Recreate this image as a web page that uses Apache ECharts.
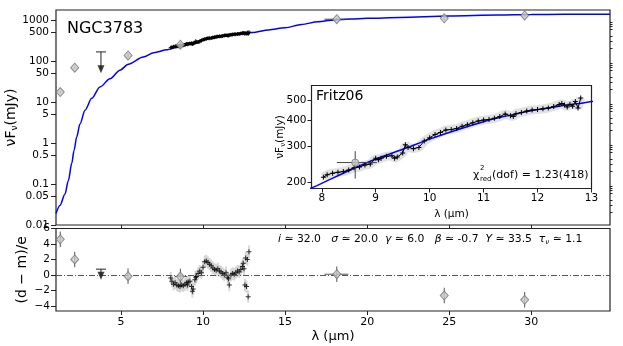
<!DOCTYPE html>
<html>
<head>
<meta charset="utf-8">
<script src="https://cdn.jsdelivr.net/npm/echarts@6/dist/echarts.min.js"></script>
<style>
html, body { margin: 0; padding: 0; background: #fff; }
#chart { width: 623px; height: 346px; }
</style>
</head>
<body>
<div id="chart"></div>
<script>
// 模型曲线
const modelLam = [1.04, 1.28, 1.59, 1.79, 2.0, 2.14, 2.30, 2.50, 2.81, 3.22, 3.72, 4.33, 4.94, 5.45, 6.36, 7.0, 7.81, 8.0, 8.5, 9.0, 9.5, 10.0, 10.5, 11.0, 11.5, 12.0, 12.5, 13.0, 14.0, 15.0, 16.0, 17.0, 18.0, 19.0, 20.0, 22.0, 25.0, 28.0, 30.0, 32.0, 34.8];
const modelFlux = [0.019, 0.030, 0.057, 0.12, 0.32, 0.66, 1.4, 2.9, 6.3, 12.3, 23.3, 37, 60, 84, 125, 160, 188, 198, 228, 260, 290, 325, 360, 395, 425, 452, 474, 495, 575, 650, 780, 910, 1010, 1060, 1100, 1160, 1250, 1320, 1360, 1380, 1390];

// 光谱 (Spitzer)
const specLam = [8.03, 8.1, 8.2, 8.3, 8.4, 8.5, 8.6, 8.7, 8.8, 8.9, 9.0, 9.05, 9.1, 9.2, 9.3, 9.35, 9.4, 9.5, 9.55, 9.6, 9.7, 9.8, 9.9, 10.0, 10.1, 10.2, 10.3, 10.4, 10.5, 10.6, 10.7, 10.8, 10.9, 11.0, 11.1, 11.2, 11.3, 11.4, 11.5, 11.55, 11.6, 11.7, 11.8, 11.9, 12.0, 12.1, 12.2, 12.3, 12.4, 12.45, 12.5, 12.55, 12.6, 12.65, 12.7, 12.75, 12.8];
const specFlux = [212, 218, 222, 224, 226, 230, 236, 238, 243, 246, 262, 258, 262, 268, 270, 262, 266, 278, 305, 296, 292, 296, 318, 330, 342, 350, 360, 362, 366, 375, 382, 390, 398, 402, 405, 410, 418, 430, 422, 418, 432, 438, 445, 450, 452, 456, 460, 468, 478, 484, 476, 465, 480, 470, 495, 460, 515];
const specResid = [-0.4, -0.8, -1.2, -1.0, -1.3, -1.4, -1.5, -1.3, -1.4, -1.2, -1.0, -1.3, -0.9, -0.8, -1.5, -2.1, -1.8, -0.6, -0.3, -0.2, 0.2, 0.5, 0.3, 1.0, 1.7, 1.8, 1.6, 1.4, 1.2, 0.9, 0.7, 0.6, 0.8, 0.5, 0.4, 0.2, 0.0, 0.3, -0.3, -0.5, -1.3, 0.0, 0.2, 0.1, 0.3, 0.5, 0.4, 0.7, 1.1, 1.5, 0.8, -1.3, 2.2, -1.5, 2.0, -2.8, 3.0];

// 测光点
const photLam = [1.30, 2.18, 5.43, 8.62, 18.15, 24.7, 29.6];
const photFlux = [17.5, 69, 137, 250, 1050, 1100, 1300];
const photLamLo = [1.30, 2.18, 5.43, 8.28, 17.4, 24.7, 29.6];
const photLamHi = [1.30, 2.18, 5.43, 9.02, 18.86, 24.7, 29.6];
const photFluxLo = [16.5, 65, 125, 209, 1000, 1010, 1200];
const photFluxHi = [18.5, 73, 150, 284, 1100, 1190, 1400];
const photResid = [4.6, 2.0, -0.15, -0.2, 0.1, -2.65, -3.2];
const photResidErr = [1, 1, 1, 1, 1, 1, 1];

// 上限
const limLam = [3.78];
const limFlux = [167];
const limArrow = [63];
const limResid = [0.75];
const limResidArrow = [-0.1];

// 刻度
const mainYTicks = [0.01, 0.05, 0.1, 0.5, 1, 5, 10, 50, 100, 500, 1000];
const mainYMinor = [0.02, 0.03, 0.04, 0.06, 0.07, 0.08, 0.09, 0.2, 0.3, 0.4, 0.6, 0.7, 0.8, 0.9, 2, 3, 4, 6, 7, 8, 9, 20, 30, 40, 60, 70, 80, 90, 200, 300, 400, 600, 700, 800, 900];
const insetYTicks = [200, 300, 400, 500];
const xTicks = [5, 10, 15, 20, 25, 30];
const insetXTicks = [8, 9, 10, 11, 12, 13];
const residTicks = [-4, -2, 0, 2, 4, 6];

const lg = v => Math.log10(v);
const FONT = 'DejaVu Sans';
const plusPath = 'path://M4,0 L6,0 L6,4 L10,4 L10,6 L6,6 L6,10 L4,10 L4,6 L0,6 L0,4 L4,4 Z';

function fmtLog(v) {
  return String(Number(Math.pow(10, v).toPrecision(3)));
}
function fmtMinus(v) {
  return v < 0 ? '\u2212' + (-v) : String(v);
}

// 误差棒
function errBars(xi, yi, data, color, width) {
  return {
    type: 'custom', xAxisIndex: xi, yAxisIndex: yi, silent: true, clip: true, z: 3,
    renderItem: function(params, api) {
      const y = api.value(1), x = api.value(0);
      const a = api.coord([api.value(2), y]), b = api.coord([api.value(3), y]);
      const c = api.coord([x, api.value(4)]), d = api.coord([x, api.value(5)]);
      return {
        type: 'group',
        children: [
          { type: 'line', shape: { x1: a[0], y1: a[1], x2: b[0], y2: b[1] }, style: { stroke: color, lineWidth: width } },
          { type: 'line', shape: { x1: c[0], y1: c[1], x2: d[0], y2: d[1] }, style: { stroke: color, lineWidth: width } }
        ]
      };
    },
    data: data
  };
}

// 上限标记
function limBars(xi, yi, data) {
  return {
    type: 'custom', xAxisIndex: xi, yAxisIndex: yi, silent: true, z: 3,
    renderItem: function(params, api) {
      const top = api.coord([api.value(0), api.value(1)]);
      const bot = api.coord([api.value(0), api.value(2)]);
      return {
        type: 'group',
        children: [
          { type: 'line', shape: { x1: top[0] - 5, y1: top[1], x2: top[0] + 5, y2: top[1] }, style: { stroke: '#222', lineWidth: 1 } },
          { type: 'line', shape: { x1: top[0], y1: top[1], x2: bot[0], y2: bot[1] }, style: { stroke: '#222', lineWidth: 1 } }
        ]
      };
    },
    data: data
  };
}

const diamondStyle = { color: '#c8c8c8', borderColor: '#777', borderWidth: 1 };
const tickLabel = { fontFamily: FONT, fontSize: 10.5, color: '#000' };
const tickLine = { color: '#222', width: 1 };

function gridBox(extra) {
  return Object.assign({ show: true, borderColor: '#222', borderWidth: 1.2, backgroundColor: 'transparent', outerBoundsMode: 'none', containLabel: false }, extra);
}

const option = {
  animation: false,
  backgroundColor: '#fff',
  grid: [
    gridBox({ left: 56, top: 10, right: 13, height: 215 }),
    gridBox({ left: 56, top: 228.5, right: 13, bottom: 35 }),
    gridBox({ left: 311.5, top: 85.5, width: 280, height: 103, backgroundColor: '#fff', z: 5 })
  ],
  xAxis: [
    {
      type: 'value', gridIndex: 0, min: 1.04, max: 34.8,
      axisLine: { show: false, onZero: false }, splitLine: { show: false },
      axisTick: { show: true, length: 4, customValues: xTicks, lineStyle: tickLine },
      axisLabel: { show: false }
    },
    {
      type: 'value', gridIndex: 1, min: 1.04, max: 34.8,
      axisLine: { show: false, onZero: false }, splitLine: { show: false },
      axisTick: { show: true, length: 4, customValues: xTicks, lineStyle: tickLine },
      axisLabel: { customValues: xTicks, margin: 6, fontSize: 11, fontFamily: FONT, color: '#000' },
      name: 'λ (µm)', nameLocation: 'middle', nameGap: 19, nameMoveOverlap: false,
      nameTextStyle: { fontFamily: FONT, fontSize: 13, color: '#000' }
    },
    {
      type: 'value', gridIndex: 2, min: 7.81, max: 13,
      axisLine: { show: false, onZero: false }, splitLine: { show: false },
      axisTick: { show: true, length: 4, customValues: insetXTicks, lineStyle: tickLine },
      axisLabel: Object.assign({ customValues: insetXTicks, margin: 4 }, tickLabel),
      name: 'λ (µm)', nameLocation: 'middle', nameGap: 20, nameMoveOverlap: false,
      nameTextStyle: { fontFamily: FONT, fontSize: 10.5, color: '#000' }
    }
  ],
  yAxis: [
    {
      type: 'value', gridIndex: 0, min: lg(0.01), max: lg(1760),
      axisLine: { show: false, onZero: false }, splitLine: { show: false },
      axisTick: { show: true, length: 5, customValues: mainYTicks.map(lg), lineStyle: tickLine },
      axisLabel: Object.assign({ customValues: mainYTicks.map(lg), margin: 7, formatter: fmtLog }, tickLabel),
      name: '{a|νF}{s|ν}{a|(mJy)}', nameLocation: 'middle', nameGap: 37, nameRotate: 90, nameMoveOverlap: false,
      nameTextStyle: {
        fontFamily: FONT, color: '#000',
        rich: {
          a: { fontFamily: FONT, fontSize: 14, color: '#000' },
          s: { fontFamily: FONT, fontSize: 9, color: '#000', padding: [7, 0, 0, 0] }
        }
      }
    },
    {
      type: 'value', gridIndex: 1, min: -4.65, max: 6,
      axisLine: { show: false, onZero: false }, splitLine: { show: false },
      axisTick: { show: true, length: 5, customValues: residTicks, lineStyle: tickLine },
      axisLabel: Object.assign({ customValues: residTicks, margin: 6, formatter: fmtMinus }, tickLabel),
      name: '(d \u2212 m)/e', nameLocation: 'middle', nameGap: 27, nameRotate: 90, nameMoveOverlap: false,
      nameTextStyle: { fontFamily: FONT, fontSize: 14, color: '#000' }
    },
    {
      type: 'value', gridIndex: 2, min: lg(187), max: lg(592),
      axisLine: { show: false, onZero: false }, splitLine: { show: false },
      axisTick: { show: true, length: 4, customValues: insetYTicks.map(lg), lineStyle: tickLine },
      axisLabel: Object.assign({ customValues: insetYTicks.map(lg), margin: 5, formatter: fmtLog }, tickLabel),
      name: '{a|νF}{s|ν}{a|(mJy)}', nameLocation: 'middle', nameGap: 25, nameRotate: 90, nameMoveOverlap: false,
      nameTextStyle: {
        fontFamily: FONT, color: '#000',
        rich: {
          a: { fontFamily: FONT, fontSize: 10.5, color: '#000' },
          s: { fontFamily: FONT, fontSize: 7, color: '#000', padding: [5, 0, 0, 0] }
        }
      }
    },
    {
      // 次刻度
      type: 'value', gridIndex: 0, min: lg(0.01), max: lg(1760),
      axisLine: { show: false, onZero: false }, splitLine: { show: false },
      axisTick: { show: true, length: 2.5, customValues: mainYMinor.map(lg), lineStyle: tickLine },
      axisLabel: { show: false }
    }
  ],
  graphic: [
    { type: 'text', left: 67, top: 21, z: 100, style: { text: 'NGC3783', font: '16px "DejaVu Sans"', fill: '#000' } },
    { type: 'text', left: 316, top: 89, z: 100, style: { text: 'Fritz06', font: '14px "DejaVu Sans"', fill: '#000' } },
    { type: 'text', left: 473, top: 170, z: 100, style: { text: 'χ', font: '11px "DejaVu Sans"', fill: '#000' } },
    { type: 'text', left: 480, top: 165, z: 100, style: { text: '2', font: '7px "DejaVu Sans"', fill: '#000' } },
    { type: 'text', left: 480, top: 176, z: 100, style: { text: 'red', font: '7px "DejaVu Sans"', fill: '#000' } },
    { type: 'text', left: 492, top: 170, z: 100, style: { text: '(dof) = 1.23(418)', font: '11px "DejaVu Sans"', fill: '#000' } },
    {
      type: 'text', left: 278, top: 234, z: 100,
      style: {
        text: '{it|i}{n| \u2243 32.0   }{it|σ}{n| \u2243 20.0  }{it|γ}{n| \u2243 6.0   }{it|β}{n| \u2243 -0.7  }{it|Y}{n| \u2243 33.5  }{it|τ}{s|ν}{n| \u2243 1.1}',
        rich: {
          it: { fontFamily: FONT, fontSize: 10.8, fontStyle: 'italic', fill: '#000' },
          n: { fontFamily: FONT, fontSize: 10.8, fill: '#000' },
          s: { fontFamily: FONT, fontSize: 7, fontStyle: 'italic', fill: '#000', padding: [5, 0, 0, 0] }
        }
      }
    }
  ],
  series: [
    // 主图
    {
      type: 'line', xAxisIndex: 0, yAxisIndex: 0, symbol: 'none', smooth: 0.3, smoothMonotone: 'x', z: 2,
      lineStyle: { color: '#0000ff', width: 1.5 },
      data: modelLam.map((l, i) => [l, lg(modelFlux[i])])
    },
    {
      type: 'line', xAxisIndex: 0, yAxisIndex: 0, symbol: plusPath, symbolSize: 4, z: 4,
      lineStyle: { color: '#000', width: 3 }, itemStyle: { color: '#000' },
      data: specLam.map((l, i) => [l, lg(specFlux[i])])
    },
    errBars(0, 0, photLam.map((l, i) => [l, lg(photFlux[i]), photLamLo[i], photLamHi[i], lg(photFluxLo[i]), lg(photFluxHi[i])]), '#444', 1),
    {
      type: 'scatter', xAxisIndex: 0, yAxisIndex: 0, symbol: 'diamond', symbolSize: [8, 9], z: 5,
      itemStyle: diamondStyle,
      data: photLam.map((l, i) => [l, lg(photFlux[i])])
    },
    limBars(0, 0, limLam.map((l, i) => [l, lg(limFlux[i]), lg(limArrow[i])])),
    {
      type: 'scatter', xAxisIndex: 0, yAxisIndex: 0, symbol: 'triangle', symbolRotate: 180, symbolSize: [7, 8], z: 5,
      itemStyle: { color: '#111' },
      data: limLam.map((l, i) => [l, lg(limArrow[i])])
    },
    // 残差
    errBars(1, 1, specLam.map((l, i) => [l, specResid[i], l, l, specResid[i] - 0.8, specResid[i] + 0.8]), 'rgba(170,170,170,0.45)', 2),
    {
      type: 'scatter', xAxisIndex: 1, yAxisIndex: 1, symbol: plusPath, symbolSize: 5, z: 4,
      itemStyle: { color: '#000' },
      data: specLam.map((l, i) => [l, specResid[i]]),
      markLine: {
        silent: true, symbol: 'none', label: { show: false },
        lineStyle: { color: '#555', width: 1, type: [6, 2, 1, 2] },
        data: [{ yAxis: 0 }]
      }
    },
    errBars(1, 1, photLam.map((l, i) => [l, photResid[i], photLamLo[i], photLamHi[i], photResid[i] - photResidErr[i], photResid[i] + photResidErr[i]]), '#555', 1),
    {
      type: 'scatter', xAxisIndex: 1, yAxisIndex: 1, symbol: 'diamond', symbolSize: [8, 9], z: 5,
      itemStyle: diamondStyle,
      data: photLam.map((l, i) => [l, photResid[i]])
    },
    limBars(1, 1, limLam.map((l, i) => [l, limResid[i], limResidArrow[i]])),
    {
      type: 'scatter', xAxisIndex: 1, yAxisIndex: 1, symbol: 'triangle', symbolRotate: 180, symbolSize: [7, 8], z: 5,
      itemStyle: { color: '#111' },
      data: limLam.map((l, i) => [l, limResidArrow[i]])
    },
    // 小图
    {
      type: 'line', xAxisIndex: 2, yAxisIndex: 2, symbol: 'none', z: 6,
      lineStyle: { color: 'rgba(160,160,160,0.3)', width: 9 },
      data: specLam.map((l, i) => [l, lg(specFlux[i])])
    },
    {
      type: 'line', xAxisIndex: 2, yAxisIndex: 2, symbol: 'none', smooth: 0.3, z: 7, clip: true,
      lineStyle: { color: '#0000ff', width: 1.5 },
      data: modelLam.map((l, i) => [l, lg(modelFlux[i])])
    },
    {
      type: 'line', xAxisIndex: 2, yAxisIndex: 2, symbol: plusPath, symbolSize: 5, showAllSymbol: true, z: 8,
      lineStyle: { color: '#000', width: 1 }, itemStyle: { color: '#000' },
      data: specLam.map((l, i) => [l, lg(specFlux[i])])
    },
    Object.assign(errBars(2, 2, photLam.map((l, i) => [l, lg(photFlux[i]), photLamLo[i], photLamHi[i], lg(photFluxLo[i]), lg(photFluxHi[i])]).filter(d => d[0] > 7.81 && d[0] < 13), '#444', 1), { z: 9 }),
    {
      type: 'scatter', xAxisIndex: 2, yAxisIndex: 2, symbol: 'circle', symbolSize: 7, z: 10,
      itemStyle: diamondStyle,
      data: photLam.map((l, i) => [l, lg(photFlux[i])]).filter(d => d[0] > 7.81 && d[0] < 13)
    }
  ]
};

const chart = echarts.init(document.getElementById('chart'));
chart.setOption(option);
</script>
</body>
</html>
